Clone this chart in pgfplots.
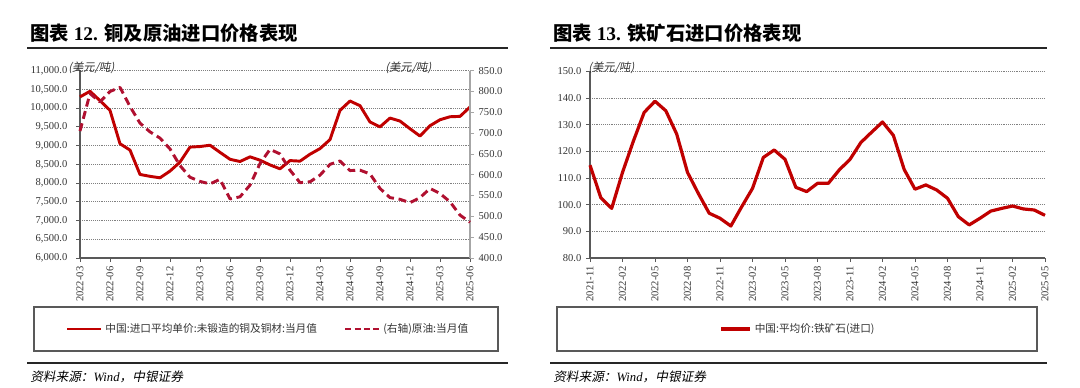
\documentclass[border=0pt]{standalone}
\usepackage{fontspec}
\usepackage{pgfplots}
\usepackage{pgfplotstable}
\pgfplotsset{compat=1.18}
\setmainfont{Liberation Serif}
\newfontfamily\cjk{Noto Sans CJK SC}
\newfontfamily\cjkit{Noto Sans CJK SC}[FakeSlant=0.2]
\definecolor{cu}{HTML}{C00000}
\definecolor{oil}{HTML}{B01030}
\definecolor{axgray}{HTML}{595959}
\definecolor{lgray}{HTML}{A6A6A6}
\definecolor{txt}{HTML}{333333}

\pgfplotstableread{
i cu
0 10300
1 10450
2 10200
3 9940
4 9050
5 8880
6 8230
7 8180
8 8140
9 8320
10 8560
11 8960
12 8975
13 9010
14 8820
15 8635
16 8575
17 8700
18 8610
19 8485
20 8380
21 8600
22 8585
23 8770
24 8920
25 9160
26 9940
27 10190
28 10065
29 9630
30 9500
31 9735
32 9655
33 9450
34 9255
35 9530
36 9690
37 9770
38 9780
39 10030
}\copper

\pgfplotstableread{
i oil
0 705
1 795
2 775
3 800
4 810
5 764
6 724
7 703
8 688
9 662
10 622
11 594
12 584
13 578
14 589
15 542
16 547
17 575
18 627
19 661
20 650
21 611
22 581
23 583
24 599
25 625
26 633
27 610
28 611
29 602
30 567
31 545
32 541
33 533
34 545
35 567
36 555
37 535
38 503
39 486
}\oildata

\pgfplotstableread{
i fe
0 114.8
1 102.6
2 98.6
3 112.1
4 123.8
5 134.6
6 138.8
7 135.2
8 126.5
9 112.1
10 104.2
11 96.8
12 94.9
13 92.0
14 99.2
15 106.1
16 117.7
17 120.5
18 117.0
19 106.5
20 104.9
21 108.0
22 108.0
23 113.0
24 117.0
25 123.3
26 127.2
27 131.0
28 126.0
29 113.2
30 105.8
31 107.4
32 105.5
33 102.4
34 95.5
35 92.4
36 94.9
37 97.6
38 98.6
39 99.5
40 98.4
41 98.0
42 96.0
}\iron

\pgfplotsset{
  base/.style={
    scale only axis,
    anchor=south west,
    tick align=outside,
    major tick length=3pt,
    tick style={axgray, line width=0.6pt},
    ticklabel style={font=\fontsize{7.9}{9}\selectfont, text=txt},
    /pgf/number format/assume math mode=true,
    scaled y ticks=false,
    yticklabel style={/pgf/number format/.cd, fixed, fixed zerofill, precision=1, 1000 sep={,}, /tikz/.cd},
    xticklabel style={rotate=90, anchor=east},
    axis line style={axgray, line width=0.8pt},
    clip=false,
  },
}

\begin{document}
\begin{tikzpicture}
\path[use as bounding box] (0,0) rectangle (810pt,-291pt);

% titles
\node[anchor=west, inner sep=0pt] at (22.5pt,-24.75pt) {\fontsize{14.5}{17}\selectfont{\cjk\bfseries 图表} \textbf{12.} {\cjk\bfseries 铜及原油进口价格表现}};
\node[anchor=west, inner sep=0pt] at (414.75pt,-24.75pt) {\fontsize{14.5}{17}\selectfont{\cjk\bfseries 图表} \textbf{13.} {\cjk\bfseries 铁矿石进口价格表现}};
\draw[line width=1.2pt, black!85] (20.25pt,-36pt) -- (381pt,-36pt);
\draw[line width=1.2pt, black!85] (412.5pt,-36pt) -- (785.25pt,-36pt);
\draw[line width=1.4pt, black!85] (20.25pt,-272.25pt) -- (381pt,-272.25pt);
\draw[line width=1.4pt, black!85] (412.5pt,-272.25pt) -- (785.25pt,-272.25pt);
\node[anchor=west, inner sep=0pt] at (22.5pt,-283pt) {\fontsize{9.5}{11}\selectfont{\cjkit 资料来源：}\textit{Wind}{\cjkit ，中银证券}};
\node[anchor=west, inner sep=0pt] at (414.75pt,-283pt) {\fontsize{9.5}{11}\selectfont{\cjkit 资料来源：}\textit{Wind}{\cjkit ，中银证券}};

% legend boxes
\draw[line width=0.8pt, axgray] (25.5pt,-230.25pt) rectangle (373.5pt,-263.25pt);
\draw[line width=0.8pt, axgray] (417.75pt,-230.25pt) rectangle (777.75pt,-263.25pt);

% left chart: copper (left axis)
\begin{axis}[base,
  at={(60pt,-193.5pt)}, width=292.5pt, height=140.5pt,
  xmin=0, xmax=39, ymin=6000, ymax=11000,
  ytick={6000,6500,...,11000},
  yticklabel style={/tikz/xshift=-3pt},
  xtick={0,3,...,39},
  xticklabels={2022-03,2022-06,2022-09,2022-12,2023-03,2023-06,2023-09,2023-12,2024-03,2024-06,2024-09,2024-12,2025-03,2025-06},
  axis x line*=bottom, axis y line*=left,
  ymajorgrids, major grid style={densely dotted, gray, line width=0.5pt},
  legend columns=2,
  legend style={at={(0.483,-0.379)}, anchor=center, draw=none, fill=none,
    font=\fontsize{8}{9}\selectfont\cjk, text=txt,
    /tikz/every even column/.append style={column sep=18pt}},
  legend image code/.code={\draw[#1] (0pt,0pt) -- (25.5pt,0pt);},
]
\addplot[cu, line width=2.2pt, line join=round] table[x=i, y=cu] {\copper};
\addlegendentry{中国:进口平均单价:未锻造的铜及铜材:当月值}
\addlegendimage{oil, line width=2.2pt, dash pattern=on 4.5pt off 2.5pt}
\addlegendentry{(右轴)原油:当月值}
\end{axis}

% left chart: oil (right axis)
\begin{axis}[base,
  at={(60pt,-193.5pt)}, width=292.5pt, height=140.5pt,
  xmin=0, xmax=39, ymin=400, ymax=850,
  ytick={400,450,...,850},
  axis x line=none, axis y line*=right,
  axis line style={lgray, line width=0.8pt},
  tick style={lgray, line width=0.6pt},
]
\addplot[oil, line width=2.2pt, dash pattern=on 6pt off 3.5pt, line join=round] table[x=i, y=oil] {\oildata};
\end{axis}

% right chart: iron ore
\begin{axis}[base,
  at={(442.5pt,-193.5pt)}, width=341.25pt, height=140pt,
  xmin=0, xmax=42, ymin=80, ymax=150,
  ytick={80,90,...,150},
  xtick={0,3,...,42},
  xticklabels={2021-11,2022-02,2022-05,2022-08,2022-11,2023-02,2023-05,2023-08,2023-11,2024-02,2024-05,2024-08,2024-11,2025-02,2025-05},
  axis x line*=bottom, axis y line*=left,
  ymajorgrids, major grid style={densely dotted, gray, line width=0.5pt},
  legend style={at={(0.458,-0.380)}, anchor=center, draw=none, fill=none,
    font=\fontsize{8}{9}\selectfont\cjk, text=txt},
  legend image code/.code={\draw[#1] (0pt,0pt) -- (22pt,0pt);},
]
\addplot[cu, line width=2.4pt, line join=round] table[x=i, y=fe] {\iron};
\addlegendentry{中国:平均价:铁矿石(进口)}
\end{axis}

% unit labels
\node[anchor=west, inner sep=0pt, text=txt] at (51pt,-50.5pt) {\fontsize{8.5}{10}\selectfont\cjkit (美元/吨)};
\node[anchor=west, inner sep=0pt, text=txt] at (288.75pt,-50.5pt) {\fontsize{8.5}{10}\selectfont\cjkit (美元/吨)};
\node[anchor=west, inner sep=0pt, text=txt] at (441pt,-50.5pt) {\fontsize{8.5}{10}\selectfont\cjkit (美元/吨)};
\end{tikzpicture}
\end{document}
